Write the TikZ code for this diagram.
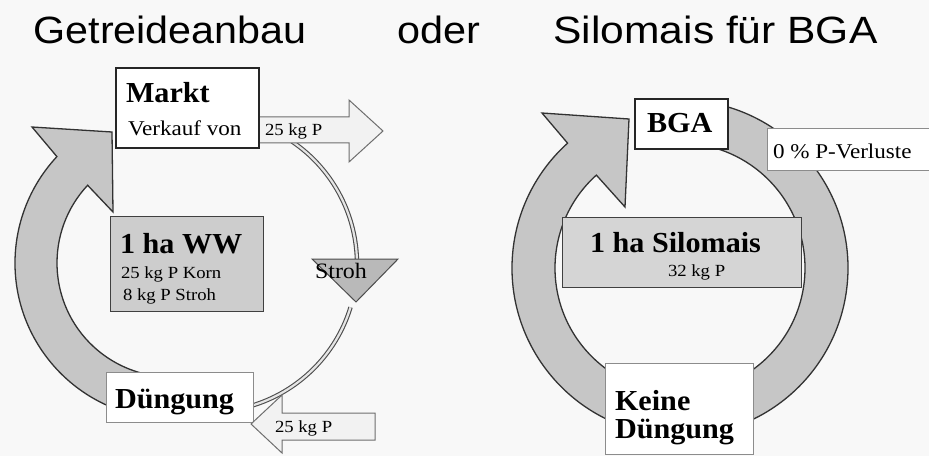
\documentclass[tikz,border=0pt]{standalone}
\usepackage{fontspec}
\setmainfont{Liberation Serif}
\newfontfamily\titlefont{Liberation Sans}
\definecolor{bgcol}{RGB}{248,248,248}
\definecolor{ringfill}{RGB}{198,198,198}
\definecolor{ringline}{RGB}{50,50,50}
\definecolor{boxgray}{RGB}{205,205,205}
\definecolor{boxgraylight}{RGB}{213,213,213}
\definecolor{strohfill}{RGB}{185,185,185}
\definecolor{arrowfill}{RGB}{242,242,242}
\definecolor{arrowline}{RGB}{110,110,110}
\tikzset{
  ring/.style={fill=ringfill, draw=ringline, line width=1.3pt, line join=miter},
  darkbox/.style={draw=black!85, line width=1.5pt, fill=white, inner sep=0pt, anchor=south west},
  lightbox/.style={draw=black!45, line width=1.2pt, fill=white, inner sep=0pt, anchor=south west},
  graybox/.style={draw=black!75, line width=1.4pt, fill=boxgray, inner sep=0pt, anchor=south west},
  blockarrow/.style={fill=arrowfill, draw=arrowline, line width=1pt, line join=miter},
  strohpipe/.style={draw=black!70, double=white!90!black, double distance=2.2pt, line width=1.1pt},
  strohtri/.style={fill=strohfill, draw=black!70, line width=1pt},
  lbl/.style={anchor=base west, inner sep=0pt, outer sep=0pt},
  headtxt/.style={lbl, xscale=1.04, font=\fontsize{29}{30}\selectfont\bfseries},
  midtxt/.style={lbl, xscale=1.1, font=\fontsize{21}{22}\selectfont},
  smalltxt/.style={lbl, xscale=1.1, font=\fontsize{17}{18}\selectfont},
  titletxt/.style={anchor=base, inner sep=0pt, font=\titlefont\fontsize{38}{40}\selectfont}
}
\begin{document}
\begin{tikzpicture}[x=1pt,y=1pt]
\useasboundingbox (0,0) rectangle (929,456);
\fill[bgcol] (0,0) rectangle (929,456);

% titles
\node[titletxt, xscale=1.086] (t1) at (170,412) {Getreideanbau};
\node[titletxt, xscale=1.09] (t2) at (438.5,412) {oder};
\node[titletxt, xscale=1.12] (t3) at (715.5,412) {Silomais für BGA};

% ---------- left cycle ----------
\draw[strohpipe] ([shift={(209,192)}]56:148) arc[start angle=56, end angle=2, radius=148];
\draw[strohpipe] ([shift={(209,192)}]-17:148) arc[start angle=-17, end angle=-74, radius=148];

\draw[ring] ([shift={(171,193)}]-95:156) arc[start angle=-95, end angle=-223, radius=156]
  -- (32,329) -- (112,324) -- (113,244)
  -- ([shift={(171,193)}]137:114) arc[start angle=137, end angle=265, radius=114] -- cycle;

\draw[strohtri] (312,197) -- (398,197) -- (356,154) -- cycle;
\node[lbl, xscale=1.09, font=\fontsize{22}{23}\selectfont] (tstroh) at (315,178) {Stroh};

\node[graybox, minimum width=153pt, minimum height=95pt] (ww) at (110,144) {};
\node[headtxt] (tww) at (120,203) {1 ha WW};
\node[smalltxt] (tkorn) at (121,178) {25 kg P Korn};
\node[smalltxt] (tstrohkg) at (123,156) {8 kg P Stroh};

\draw[blockarrow] (257,339) -- (349,339) -- (349,356) -- (383,325) -- (349,294) -- (349,313) -- (257,313) -- cycle;
\node[darkbox, minimum width=143pt, minimum height=80pt] (markt) at (115,307) {};
\node[headtxt] (tmarkt) at (126,353) {Markt};
\node[midtxt] (tverkauf) at (128,320) {Verkauf von};
\node[smalltxt] (tout) at (265,320) {25 kg P};

\node[lightbox, minimum width=147pt, minimum height=50pt] (dueng) at (106,33) {};
\node[headtxt] (tdueng) at (115,48) {Düngung};
\draw[blockarrow] (251,32) -- (282,61) -- (282,43) -- (375,43) -- (375,16) -- (282,16) -- (282,3) -- cycle;
\node[smalltxt] (tin) at (275,24) {25 kg P};

% ---------- right cycle ----------
\draw[ring] ([shift={(680,188)}]85:168) arc[start angle=85, end angle=-228, radius=168]
  -- (542,343) -- (629,337) -- (625,249)
  -- ([shift={(680,188)}]132:125) arc[start angle=132, end angle=445, radius=125] -- cycle;

\node[darkbox, minimum width=93pt, minimum height=50pt] (bga) at (634,306) {};
\node[headtxt] (tbga) at (647,323) {BGA};

\node[lightbox, minimum width=170pt, minimum height=42pt] (verl) at (767,285) {};
\node[midtxt] (tverl) at (773,298) {0 \% P-Verluste};

\node[graybox, fill=boxgraylight, minimum width=239pt, minimum height=70pt] (silo) at (562,168) {};
\node[headtxt] (tsilo) at (590,204) {1 ha Silomais};
\node[smalltxt] (tsilokg) at (668,180) {32 kg P};

\node[lightbox, minimum width=148pt, minimum height=91pt] (keine) at (605,1) {};
\node[headtxt] (tkeine1) at (615,46) {Keine};
\node[headtxt] (tkeine2) at (615,18) {Düngung};
\end{tikzpicture}
\end{document}
